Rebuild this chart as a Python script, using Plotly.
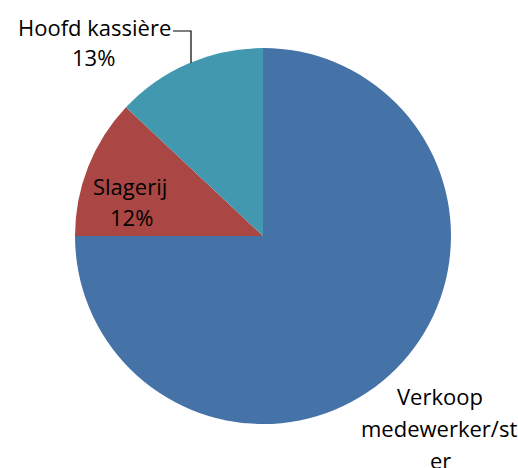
import plotly.graph_objects as go

# Staff distribution by role
categories = ["Verkoop medewerker/ster", "Slagerij", "Hoofd kassière"]
shares = [75, 12, 13]
colors = ["#4572A7", "#AA4643", "#4298AF"]

W, H = 518, 468
cx, cy, r = 263, 236, 188

fig = go.Figure(go.Pie(
    labels=categories,
    values=shares,
    sort=False,
    direction="clockwise",
    rotation=0,
    marker=dict(colors=colors, line=dict(width=0)),
    textinfo="none",
    hoverinfo="label+percent",
    showlegend=False,
    domain=dict(x=[(cx - r) / W, (cx + r) / W],
                y=[1 - (cy + r) / H, 1 - (cy - r) / H]),
))

font = dict(family="Open Sans, sans-serif", size=22, color="#000000")

def px(x, y):
    return x / W, 1 - y / H

def label(text, x, y):
    ax, ay = px(x, y)
    fig.add_annotation(x=ax, y=ay, xref="paper", yref="paper", text=text,
                       showarrow=False, font=font, xanchor="center", yanchor="middle")

total = sum(shares)
pct = [f"{round(v * 100 / total)}%" for v in shares]

# Hoofd kassière (outside, with leader line)
label(categories[2], 94, 27)
label(pct[2], 93, 57)
# Slagerij (inside)
label(categories[1], 130, 186)
label(pct[1], 131, 217)
# Verkoop medewerker/ster (wrapped, partly outside the canvas)
label("Verkoop", 440, 396)
label("medewerker/st", 439, 428)
label("er", 440, 460)

x0, y0 = px(173, 31)
x1, y1 = px(191, 31)
x2, y2 = px(191, 63)
fig.add_shape(type="path", xref="paper", yref="paper",
              path=f"M {x0} {y0} L {x1} {y1} L {x2} {y2}",
              line=dict(color="#000000", width=1.2))

fig.update_layout(width=W, height=H, margin=dict(l=0, r=0, t=0, b=0),
                  paper_bgcolor="white", plot_bgcolor="white")

fig.write_html("out.html")
